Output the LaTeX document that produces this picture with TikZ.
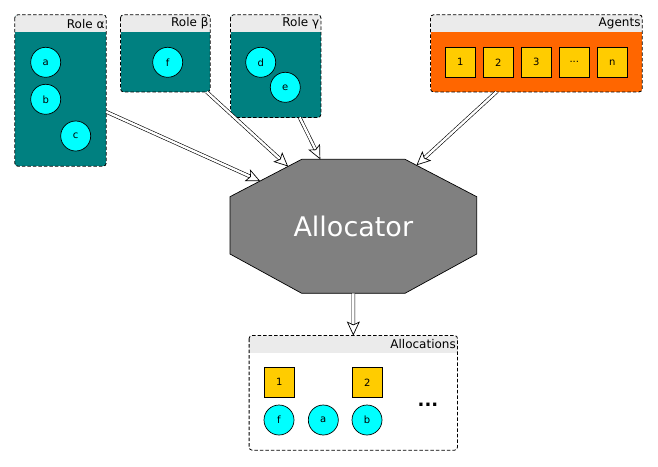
\documentclass[tikz,border=0pt]{standalone}
\usepackage{fontspec}
\setmainfont{DejaVu Sans}
\usetikzlibrary{arrows.meta,calc,fit}

\definecolor{roleteal}{HTML}{008080}
\definecolor{membercyan}{HTML}{00FFFF}
\definecolor{agentgold}{HTML}{FFCC00}
\definecolor{agentorange}{HTML}{FF6600}
\definecolor{headgray}{HTML}{EBEBEB}
\definecolor{allocgray}{HTML}{808080}

\newcommand{\agdots}{...}

\tikzset{
  member/.style={circle,draw,line width=.7pt,fill=membercyan,minimum size=30pt,inner sep=0pt,
    font=\fontsize{10}{11}\selectfont},
  agent/.style={rectangle,draw,line width=.7pt,fill=agentgold,minimum size=30pt,inner sep=0pt,
    font=\fontsize{10}{11}\selectfont},
  frame/.style={inner sep=0pt},
  title/.style={anchor=east,inner sep=1.5pt,font=\fontsize{12}{13}\selectfont},
  flow/.style={double,double distance=2.4pt,line width=.6pt,
    -{Stealth[open,length=14pt,width=13pt,inset=3pt,line width=.7pt]}},
}

% panel with grey title bar: #1 node name, #2 body colour, #3 title
\newcommand{\panel}[3]{%
  \begin{scope}
    \clip[rounded corners=3pt] (#1.north west) rectangle (#1.south east);
    \fill[#2] (#1.north west) rectangle (#1.south east);
    \fill[headgray] (#1.north west) rectangle ([yshift=-17.5pt]#1.north east);
  \end{scope}
  \draw[line width=.8pt,dash pattern=on 3.5pt off 2pt,rounded corners=3pt] (#1.north west) rectangle (#1.south east);
  \node[title] (#1-title) at ([yshift=-8.75pt]#1.north east) {#3};
}

\begin{document}
\begin{tikzpicture}[x=1pt,y=-1pt]
\useasboundingbox (0,0) rectangle (658,466);

% roles
\node[frame,fit={(15,15) (106,166)}] (alpha) {};
\node[frame,fit={(120.7,15) (210,91.7)}] (beta) {};
\node[frame,fit={(230.7,15) (320.7,117.3)}] (gamma) {};
\panel{alpha}{roleteal}{Role α}
\panel{beta}{roleteal}{Role β}
\panel{gamma}{roleteal}{Role γ}
\node[member] (a) at (45.7,62.3) {a};
\node[member] (b) at (45.7,99.3) {b};
\node[member] (c) at (75.7,136) {c};
\node[member] (f) at (167.7,62.3) {f};
\node[member] (d) at (260.7,62.3) {d};
\node[member] (e) at (285.3,87.3) {e};

% agents
\node[frame,fit={(430.7,15) (642,91.7)}] (agents) {};
\panel{agents}{agentorange}{Agents}
\foreach \lbl [count=\i] in {1,2,3,\agdots,n}
  \node[agent] (ag\i) at ({460.3+38*(\i-1)},62.3) {\lbl};

% allocator
\coordinate (o1) at (301.7,159.3);
\coordinate (o2) at (405,159.3);
\coordinate (o3) at (476.7,196.7);
\coordinate (o4) at (476.7,254);
\coordinate (o5) at (405,293.3);
\coordinate (o6) at (301.7,293.3);
\coordinate (o7) at (230,254);
\coordinate (o8) at (230,196.7);
\draw[fill=allocgray,line width=.7pt] (o1) -- (o2) -- (o3) -- (o4) -- (o5) -- (o6) -- (o7) -- (o8) -- cycle;
\node[text=white,font=\fontsize{27}{30}\selectfont] (alloc) at (353.3,226.3) {Allocator};

% allocations
\node[frame,fit={(249.3,335.7) (457.3,450)}] (allocs) {};
\panel{allocs}{white}{Allocations}
\node[agent] (al1) at (279.3,382.3) {1};
\node[agent] (al2) at (367.3,382.3) {2};
\node[member] (alf) at (279,420) {f};
\node[member] (ala) at (323.3,420) {a};
\node[member] (alb) at (367,420) {b};
\node[font=\fontsize{18}{20}\bfseries] (more) at (428,405) {...};

% connectors
\coordinate (inalpha) at ($(o8)!.42!(o1)$);
\coordinate (inbeta) at ($(o8)!.81!(o1)$);
\coordinate (ingamma) at ($(o1)!.18!(o2)$);
\coordinate (inagents) at ($(o2)!.16!(o3)$);
\coordinate (outalloc) at ($(o5)!.5!(o6)$);
\draw[flow] (alpha.-25) -- (inalpha);
\draw[flow] (beta.-43) -- (inbeta);
\draw[flow] (gamma.-65) -- (ingamma);
\draw[flow] (agents.-136) -- (inagents);
\draw[flow] (outalloc) -- (allocs.north);
\end{tikzpicture}
\end{document}
